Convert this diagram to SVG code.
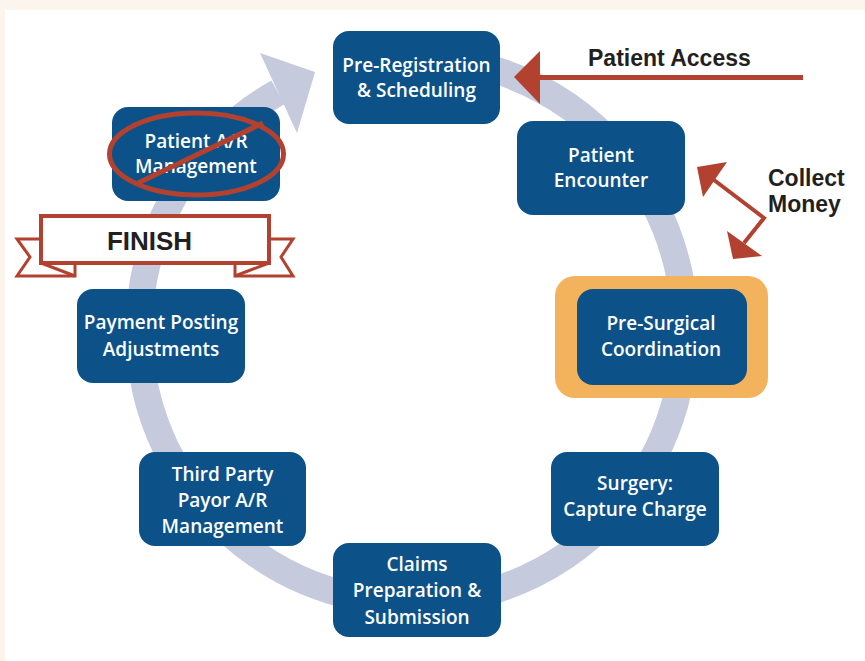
<svg xmlns="http://www.w3.org/2000/svg" width="865" height="661" viewBox="0 0 865 661">
<style>
.box{fill:#0c5289}
.nt{fill:#ffffff;font-family:"Open Sans","Noto Sans",sans-serif;font-weight:600;font-size:19px;text-anchor:middle}
.lbl{fill:#231f20;font-family:"Liberation Sans",Arial,sans-serif;font-weight:700;font-size:23px}
.red{fill:#b3412f}
.redl{stroke:#b3412f;fill:none}
</style>
<rect x="0" y="0" width="865" height="661" fill="#fcf5ee"/>
<rect x="5" y="10" width="860" height="651" fill="#ffffff"/>
<g id="connectors">
<g id="cycle-ring">
<path d="M 380.1 58.9 A 273 273 0 1 1 278 92.2" fill="none" stroke="#c5cadc" stroke-width="27"/>
<polygon points="260,53 315,72 297,133" fill="#c5cadc"/>
</g>
<g id="patient-access-arrow">
<line x1="538" y1="77.5" x2="803" y2="77.5" stroke="#b3412f" stroke-width="5"/>
<polygon class="red" points="514,77 540,51 540,104"/>
</g>
<g id="collect-money-arrow">
<polyline class="redl" points="714,180 764,218 744,243" stroke-width="4"/>
<polygon class="red" points="697,167 727,162 703,197"/>
<polygon class="red" points="733,259 727,231 762,256"/>
</g>
</g>
<g id="node-preregistration">
<rect class="box" x="333" y="31" width="167" height="93" rx="16"/>
<text class="nt" x="416.5" y="72">Pre-Registration</text>
<text class="nt" x="416.5" y="97">&amp; Scheduling</text>
</g>
<g id="node-patient-encounter">
<rect class="box" x="517" y="121" width="168" height="94" rx="16"/>
<text class="nt" x="601" y="162">Patient</text>
<text class="nt" x="601" y="187">Encounter</text>
</g>
<g id="node-presurgical">
<rect x="555" y="276" width="213" height="122" rx="20" fill="#f3b35c"/>
<rect class="box" x="577" y="289" width="170" height="96" rx="16"/>
<text class="nt" x="661" y="330">Pre-Surgical</text>
<text class="nt" x="661" y="356">Coordination</text>
</g>
<g id="node-surgery">
<rect class="box" x="551" y="452" width="168" height="94" rx="16"/>
<text class="nt" x="635" y="490">Surgery:</text>
<text class="nt" x="635" y="516">Capture Charge</text>
</g>
<g id="node-claims">
<rect class="box" x="333" y="543" width="168" height="94" rx="16"/>
<text class="nt" x="417" y="571">Claims</text>
<text class="nt" x="417" y="597">Preparation &amp;</text>
<text class="nt" x="417" y="624">Submission</text>
</g>
<g id="node-third-party">
<rect class="box" x="139" y="452" width="167" height="94" rx="16"/>
<text class="nt" x="222.5" y="481">Third Party</text>
<text class="nt" x="222.5" y="507">Payor A/R</text>
<text class="nt" x="222.5" y="533">Management</text>
</g>
<g id="node-payment-posting">
<rect class="box" x="77" y="289" width="168" height="94" rx="16"/>
<text class="nt" x="161" y="329">Payment Posting</text>
<text class="nt" x="161" y="356">Adjustments</text>
</g>
<g id="node-patient-ar">
<rect class="box" x="112" y="107" width="168" height="94" rx="16"/>
<text class="nt" x="196" y="148">Patient A/R</text>
<text class="nt" x="196" y="173">Management</text>
<ellipse cx="196.5" cy="154" rx="87" ry="41" fill="none" stroke="#b3412f" stroke-width="5"/>
<line x1="138" y1="183" x2="263" y2="123" stroke="#b3412f" stroke-width="5"/>
</g>
<g id="finish-banner">
<polygon points="41,239 17,239 30,257 17,276 75,276 75,263" fill="#ffffff" stroke="#b3412f" stroke-width="3"/>
<line x1="41" y1="263" x2="75" y2="276" stroke="#b3412f" stroke-width="3"/>
<polygon points="269,239 293,239 281,257 293,276 235,276 235,263" fill="#ffffff" stroke="#b3412f" stroke-width="3"/>
<line x1="269" y1="263" x2="235" y2="276" stroke="#b3412f" stroke-width="3"/>
<rect x="41" y="216" width="228" height="47" fill="#ffffff" stroke="#b3412f" stroke-width="4"/>
<text class="lbl" x="149.5" y="250" style="font-size:26px" text-anchor="middle">FINISH</text>
</g>
<g id="label-patient-access">
<text class="lbl" x="588" y="66">Patient Access</text>
</g>
<g id="label-collect-money">
<text class="lbl" x="768" y="186">Collect</text>
<text class="lbl" x="768" y="212">Money</text>
</g>
</svg>
